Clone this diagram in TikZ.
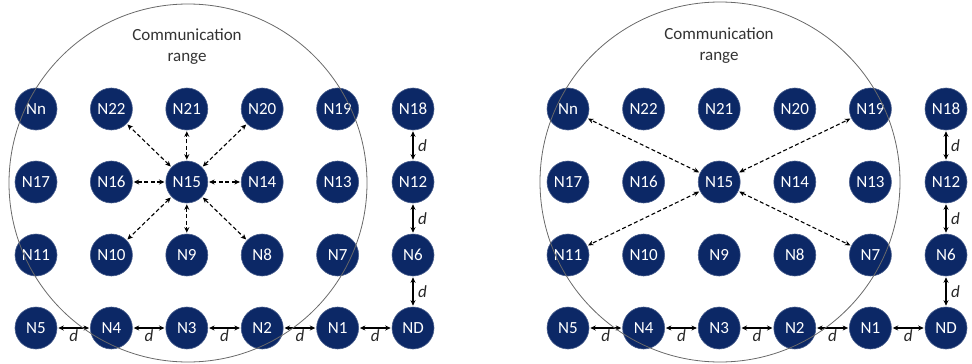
\documentclass[tikz,border=0pt]{standalone}
\usepackage{fontspec}
\setmainfont{Carlito}
\usetikzlibrary{arrows.meta}
\definecolor{navy}{RGB}{12,40,102}
\definecolor{rng}{RGB}{105,105,105}
\begin{document}
\begin{tikzpicture}[x=1pt,y=-1pt,
  nd/.style={circle,fill=navy,draw=navy!75!white,line width=0.6pt,minimum size=42pt,inner sep=0pt,text=white,font=\fontsize{17}{17}\selectfont},
  link/.style={<->,>={Stealth[length=5.5pt,width=5pt]},line width=1.1pt,shorten <=1pt,shorten >=1pt},
  dlink/.style={link,dash pattern=on 4pt off 2.5pt},
  dl/.style={font=\fontsize{17}{17}\selectfont\itshape,inner sep=0pt,text=black!85},
  rangecirc/.style={draw=rng,line width=0.8pt},
  lbl/.style={align=center,text=black!80,font=\fontsize{17}{21}\selectfont}
]
\useasboundingbox (0,0) rectangle (972,364);
\foreach \p/\xo/\dx in {L/36/75.4,R/568/75.6}{
  \foreach \nm [count=\i from 0] in {Nn,N22,N21,N20,N19,N18}
    \node[nd] (\p-\nm) at (\xo+\i*\dx,109) {\nm};
  \foreach \nm [count=\i from 0] in {N17,N16,N15,N14,N13,N12}
    \node[nd] (\p-\nm) at (\xo+\i*\dx,182) {\nm};
  \foreach \nm [count=\i from 0] in {N11,N10,N9,N8,N7,N6}
    \node[nd] (\p-\nm) at (\xo+\i*\dx,255) {\nm};
  \foreach \nm [count=\i from 0] in {N5,N4,N3,N2,N1,ND}
    \node[nd] (\p-\nm) at (\xo+\i*\dx,328) {\nm};
  \foreach \a/\b in {N5/N4,N4/N3,N3/N2,N2/N1,N1/ND}
    \draw[link] (\p-\a) -- node[dl,yshift=-8pt] {d} (\p-\b);
  \foreach \a/\b in {N18/N12,N12/N6,N6/ND}
    \draw[link] (\p-\a) -- node[dl,xshift=9.5pt] {d} (\p-\b);
}
\foreach \t in {N22,N21,N20,N16,N14,N10,N9,N8}
  \draw[dlink] (L-N15) -- (L-\t);
\foreach \t in {Nn,N19,N11,N7}
  \draw[dlink] (R-N15) -- (R-\t);
\draw[rangecirc] (188,183) circle[radius=179];
\draw[rangecirc] (720,182) circle[radius=180];
\node[lbl] (Ltxt) at (187,46.5) {Communication\\range};
\node[lbl] (Rtxt) at (719,45.5) {Communication\\range};
\end{tikzpicture}
\end{document}
